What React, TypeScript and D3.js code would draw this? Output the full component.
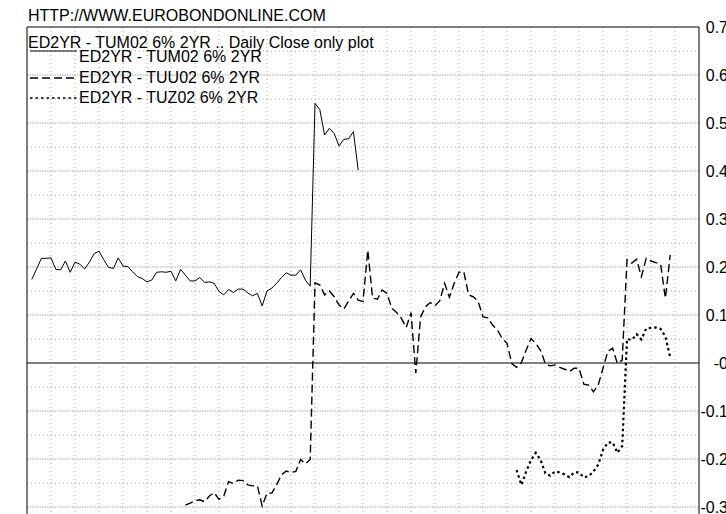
import React from "react";
import * as d3 from "d3";

// day index of the first value in each series (trading days, 5 per grid column)
const tumStart = 1;
const tuuStart = 33;
const tuzStart = 102;

const tumValues = [
  0.174, 0.196, 0.218, 0.218, 0.219, 0.195, 0.194, 0.2125, 0.189, 0.21,
  0.206, 0.196, 0.21, 0.228, 0.233, 0.215, 0.199, 0.197, 0.219, 0.202,
  0.201, 0.19, 0.18, 0.176, 0.169, 0.173, 0.189, 0.19, 0.189, 0.191,
  0.171, 0.195, 0.183, 0.171, 0.171, 0.178, 0.168, 0.169, 0.166, 0.149,
  0.142, 0.153, 0.147, 0.154, 0.154, 0.146, 0.14, 0.145, 0.119, 0.15,
  0.156, 0.166, 0.178, 0.188, 0.183, 0.183, 0.194, 0.173, 0.16,
  0.541, 0.528, 0.475, 0.489, 0.478, 0.452, 0.466, 0.467, 0.482, 0.402,
];

const tuuValues = [
  -0.296, -0.292, -0.287, -0.285, -0.289, -0.277, -0.27, -0.284, -0.277, -0.247,
  -0.251, -0.244, -0.245, -0.254, -0.256, -0.256, -0.298, -0.271, -0.271, -0.254,
  -0.233, -0.225, -0.228, -0.226, -0.201, -0.21, -0.201,
  0.167, 0.1625, 0.142, 0.15, 0.138, 0.121, 0.1125, 0.129, 0.145, 0.131,
  0.128, 0.235, 0.135, 0.133, 0.152, 0.145, 0.114, 0.105, 0.093, 0.074,
  0.105, -0.021, 0.096, 0.117, 0.126, 0.119, 0.13, 0.166, 0.137, 0.166,
  0.189, 0.19, 0.142, 0.138, 0.128, 0.096, 0.094, 0.079, 0.069, 0.051,
  0.041, -0.001, -0.009, 0.001, 0.027, 0.051, 0.041, 0.026, -0.002, -0.006,
  -0.004, -0.009, -0.013, -0.018, -0.011, -0.011, -0.044, -0.046, -0.06, -0.046,
  -0.011, 0.024, 0.031, -0.001, 0.006,
  0.215, 0.208, 0.216, 0.18, 0.218, 0.2125, 0.209, 0.206, 0.135, 0.225,
];

const tuzValues = [
  -0.223, -0.254, -0.226, -0.202, -0.187, -0.202, -0.23, -0.235, -0.226, -0.228,
  -0.232, -0.238, -0.228, -0.228, -0.238, -0.236, -0.226, -0.212, -0.181, -0.166,
  -0.165, -0.187, -0.173,
  0.05, 0.048, 0.06, 0.049, 0.072, 0.073, 0.074, 0.071, 0.055, 0.012,
];

const majorTicks = [0.7, 0.6, 0.5, 0.4, 0.3, 0.2, 0.1, 0, -0.1, -0.2, -0.3];
const tickLabels = ["0.7", "0.6", "0.5", "0.4", "0.3", "0.2", "0.1", "-0", "-0.1", "-0.2", "-0.3"];
const minorTicks = [0.65, 0.55, 0.45, 0.35, 0.25, 0.15, 0.05, -0.05, -0.15, -0.25];

const siteLabel = "HTTP://WWW.EUROBONDONLINE.COM";
const chartTitle = "ED2YR - TUM02 6% 2YR .. Daily Close only plot";
const seriesNames = ["ED2YR - TUM02 6% 2YR", "ED2YR - TUU02 6% 2YR", "ED2YR - TUZ02 6% 2YR"];

const W = 726;
const H = 514;
const FONT = "'Liberation Sans', Arial, sans-serif";

const App = () => {
  const x = d3.scaleLinear().domain([0, 140]).range([27, 699]);
  const y = d3.scaleLinear().domain([-0.3, 0.7]).range([507, 27]);

  const toPoints = (vals: number[], start: number) =>
    vals.map((v, i) => [start + i, v] as [number, number]);

  const line = d3
    .line<[number, number]>()
    .x((d) => x(d[0]))
    .y((d) => y(d[1]));

  const series = [
    { name: seriesNames[0], pts: toPoints(tumValues, tumStart), dash: "none", w: 1, legendY: 51, textY: 62 },
    { name: seriesNames[1], pts: toPoints(tuuValues, tuuStart), dash: "8,4", w: 1.4, legendY: 78, textY: 83 },
    { name: seriesNames[2], pts: toPoints(tuzValues, tuzStart), dash: "2.5,3", w: 2.2, legendY: 98, textY: 103 },
  ];

  const gridDays = d3.range(5, 140, 5);

  return (
    <svg width={W} height={H} style={{ position: "absolute", left: 0, top: 0, background: "#fff" }}>
      {/* grid */}
      {gridDays.map((d) => (
        <line key={"v" + d} x1={x(d)} x2={x(d)} y1={y(0.7)} y2={H} stroke="#aaa" strokeDasharray="1,3" />
      ))}
      {minorTicks.map((t) => (
        <line key={"m" + t} x1={x(0)} x2={x(140)} y1={y(t)} y2={y(t)} stroke="#aaa" strokeDasharray="1,3" />
      ))}
      {majorTicks
        .filter((t) => t !== 0 && t !== 0.7)
        .map((t) => (
          <line key={"M" + t} x1={x(0)} x2={x(140)} y1={y(t)} y2={y(t)} stroke="#aaa" strokeDasharray="1.5,1" />
        ))}
      <line x1={x(0)} x2={x(140)} y1={y(0)} y2={y(0)} stroke="#808080" strokeWidth={2} />

      {/* frame */}
      <line x1={x(0)} x2={x(140)} y1={y(0.7)} y2={y(0.7)} stroke="#000" />
      <line x1={x(0)} x2={x(0)} y1={y(0.7)} y2={H} stroke="#000" />
      <line x1={x(140)} x2={x(140)} y1={y(0.7)} y2={H} stroke="#000" />

      {/* series */}
      {series.map((s) => (
        <path key={s.name} d={line(s.pts) || ""} fill="none" stroke="#000" strokeWidth={s.w} strokeDasharray={s.dash} />
      ))}

      {/* right axis labels */}
      {majorTicks.map((t, i) => (
        <text key={"l" + t} x={728} y={y(t)} dy="0.36em" textAnchor="end" fontFamily={FONT} fontSize={16} fill="#000">
          {tickLabels[i]}
        </text>
      ))}

      {/* header, title and legend */}
      <text x={28} y={21} fontFamily={FONT} fontSize={16} fill="#000">
        {siteLabel}
      </text>
      <text x={28} y={48} fontFamily={FONT} fontSize={16} fill="#000">
        {chartTitle}
      </text>
      {series.map((s) => (
        <g key={"lg" + s.name}>
          <line x1={30} x2={77} y1={s.legendY} y2={s.legendY} stroke="#000" strokeWidth={Math.min(s.w, 1.5)} strokeDasharray={s.dash} />
          <text x={79} y={s.textY} fontFamily={FONT} fontSize={16} fill="#000">
            {s.name}
          </text>
        </g>
      ))}
    </svg>
  );
};

export default App;
